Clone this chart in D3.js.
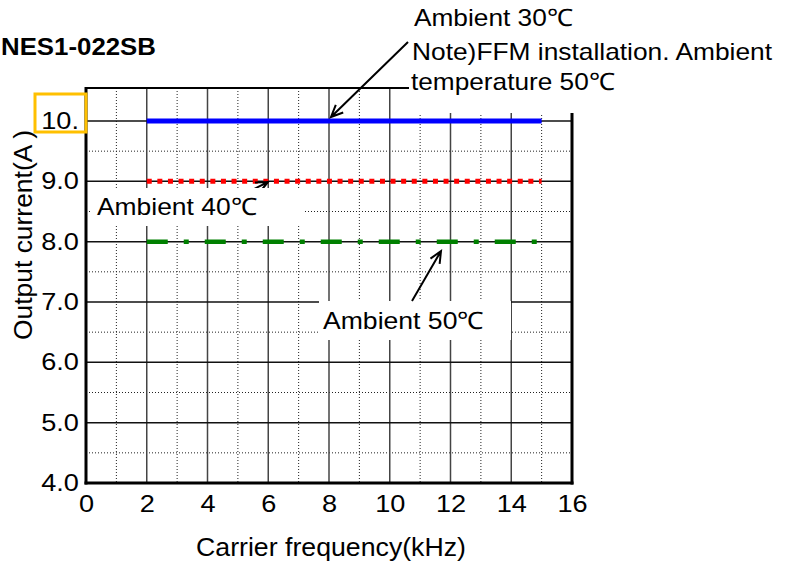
<!DOCTYPE html>
<html>
<head>
<meta charset="utf-8">
<script src="https://cdn.jsdelivr.net/npm/d3@7"></script>
<style>
  html, body { margin: 0; padding: 0; background: #fff; }
  svg { display: block; }
  text { font-family: "Liberation Sans", Arial, sans-serif; fill: #000; }
</style>
</head>
<body>
<svg id="chart" width="790" height="566"></svg>
<script>
// ---- data ----
const title = "NES1-022SB";
const xLabel = "Carrier frequency(kHz)";
const yLabel = "Output current(A )";
const freqRange = [2, 15];            // kHz, start/end of each series
const seriesNames = ["Ambient 30℃", "Ambient 40℃", "Ambient 50℃"];
const ambient30 = [10.0, 10.0];
const ambient40 = [9.0, 9.0];
const ambient50 = [8.0, 8.0];
const xTicks = [0, 2, 4, 6, 8, 10, 12, 14, 16];
const xMinor = [1, 3, 5, 7, 9, 11, 13, 15];
const yTicks = [4, 5, 6, 7, 8, 9, 10];
const yTickLabels = ["4.0", "5.0", "6.0", "7.0", "8.0", "9.0", "10."];
const yMinor = [4.5, 5.5, 6.5, 7.5, 8.5, 9.5];
const noteLines = ["Note)FFM installation. Ambient", "temperature 50℃"];

// ---- layout ----
const svg = d3.select("#chart");
const L = 86, R = 572, T = 88, B = 483;
const x = d3.scaleLinear().domain([0, 16]).range([L, R]);
const y = d3.scaleLinear().domain([4, 10]).range([B, 121]);

// grid
const g = svg.append("g");
g.selectAll(".vminor").data(xMinor).join("line")
  .attr("x1", d => x(d)).attr("x2", d => x(d)).attr("y1", T).attr("y2", B)
  .attr("stroke", "#222").attr("stroke-width", 1).attr("stroke-dasharray", "1,2");
g.selectAll(".hminor").data(yMinor).join("line")
  .attr("x1", L).attr("x2", R).attr("y1", d => y(d)).attr("y2", d => y(d))
  .attr("stroke", "#222").attr("stroke-width", 1).attr("stroke-dasharray", "1,2");
g.selectAll(".vmajor").data(xTicks.slice(1, -1)).join("line")
  .attr("x1", d => x(d)).attr("x2", d => x(d)).attr("y1", T).attr("y2", B)
  .attr("stroke", "#444").attr("stroke-width", 1.5);
g.selectAll(".hmajor").data(yTicks.slice(1)).join("line")
  .attr("x1", L).attr("x2", R).attr("y1", d => y(d)).attr("y2", d => y(d))
  .attr("stroke", "#111").attr("stroke-width", 1.5);

// border
svg.append("line").attr("x1", L).attr("x2", R).attr("y1", T).attr("y2", T)
  .attr("stroke", "#000").attr("stroke-width", 2);
svg.append("line").attr("x1", L).attr("x2", L).attr("y1", T - 1).attr("y2", B + 1.5)
  .attr("stroke", "#000").attr("stroke-width", 3);
svg.append("line").attr("x1", R).attr("x2", R).attr("y1", T - 1).attr("y2", B + 1.5)
  .attr("stroke", "#000").attr("stroke-width", 3);
svg.append("line").attr("x1", L - 1.5).attr("x2", R + 1.5).attr("y1", B).attr("y2", B)
  .attr("stroke", "#000").attr("stroke-width", 3);

// series
const line = d3.line().x(d => x(d[0])).y(d => y(d[1]));
const mk = vals => freqRange.map((f, i) => [f, vals[i]]);
svg.append("path").attr("d", line(mk(ambient30))).attr("fill", "none")
  .attr("stroke", "#0000ff").attr("stroke-width", 5);
svg.append("path").attr("d", line(mk(ambient40))).attr("fill", "none")
  .attr("stroke", "#ff0000").attr("stroke-width", 5).attr("stroke-dasharray", "5,5.6");
svg.append("path").attr("d", line(mk(ambient50))).attr("fill", "none")
  .attr("stroke", "#008000").attr("stroke-width", 4.5).attr("stroke-dasharray", "21,16,5,16");

// arrow helper
function arrow(x1, y1, x2, y2) {
  const a = Math.atan2(y2 - y1, x2 - x1), h = 13, s = 0.42;
  const p = d3.path();
  p.moveTo(x1, y1); p.lineTo(x2, y2);
  p.moveTo(x2 - h * Math.cos(a - s), y2 - h * Math.sin(a - s));
  p.lineTo(x2, y2);
  p.lineTo(x2 - h * Math.cos(a + s), y2 - h * Math.sin(a + s));
  svg.append("path").attr("d", p.toString()).attr("fill", "none")
    .attr("stroke", "#000").attr("stroke-width", 2);
}
// hidden arrow for 40℃ (mostly under its label box)
arrow(240, 196, 268, 182);

// label boxes (white) covering grid
svg.append("rect").attr("x", 92).attr("y", 188).attr("width", 213).attr("height", 38).attr("fill", "#fff");
svg.append("rect").attr("x", 319).attr("y", 301).attr("width", 192).attr("height", 39).attr("fill", "#fff");
svg.append("rect").attr("x", 409).attr("y", 30).attr("width", 381).attr("height", 83).attr("fill", "#fff");

// axes
const xAxis = d3.axisBottom(x).tickValues(xTicks).tickSize(0).tickPadding(13).tickFormat(d3.format("d"));
const gx = svg.append("g").attr("transform", `translate(0,${B})`).call(xAxis);
gx.select(".domain").remove();
gx.selectAll("text").attr("font-size", 23).attr("font-family", "Liberation Sans, Arial, sans-serif")
  .attr("fill", "#000").attr("transform", "scale(1.18,1)");

const yAxis = d3.axisLeft(y).tickValues(yTicks).tickSize(0).tickPadding(6)
  .tickFormat((d, i) => yTickLabels[i]);
const gy = svg.append("g").attr("transform", `translate(${L},0)`).call(yAxis);
gy.select(".domain").remove();
gy.selectAll("text").attr("font-size", 23).attr("font-family", "Liberation Sans, Arial, sans-serif")
  .attr("fill", "#000").attr("transform", "scale(1.18,1)");

// orange box around "10."
svg.append("rect").attr("x", 35).attr("y", 94).attr("width", 51).attr("height", 38)
  .attr("fill", "none").attr("stroke", "#ffc000").attr("stroke-width", 3);

// texts
function txt(s, x0, yb, w, size, weight) {
  return svg.append("text").attr("x", x0).attr("y", yb).attr("font-size", size)
    .attr("font-weight", weight || "normal")
    .attr("textLength", w).attr("lengthAdjust", "spacingAndGlyphs").text(s);
}
txt(title, 1, 55, 155, 23, "bold");
txt(seriesNames[0], 414, 26, 159, 24);
txt(noteLines[0], 412, 60, 360, 24);
txt(noteLines[1], 411, 90, 204, 24);
txt(seriesNames[1], 97, 215, 160, 24);
txt(seriesNames[2], 323, 329, 161, 24);
txt(xLabel, 196, 556, 270, 25);
svg.append("text").attr("transform", "translate(32,235) rotate(-90)")
  .attr("text-anchor", "middle").attr("font-size", 25)
  .attr("textLength", 210).attr("lengthAdjust", "spacingAndGlyphs").text(yLabel);

// arrows for 30℃ and 50℃
arrow(408, 42, 331, 117);
arrow(412, 301, 441, 251);
</script>
</body>
</html>
